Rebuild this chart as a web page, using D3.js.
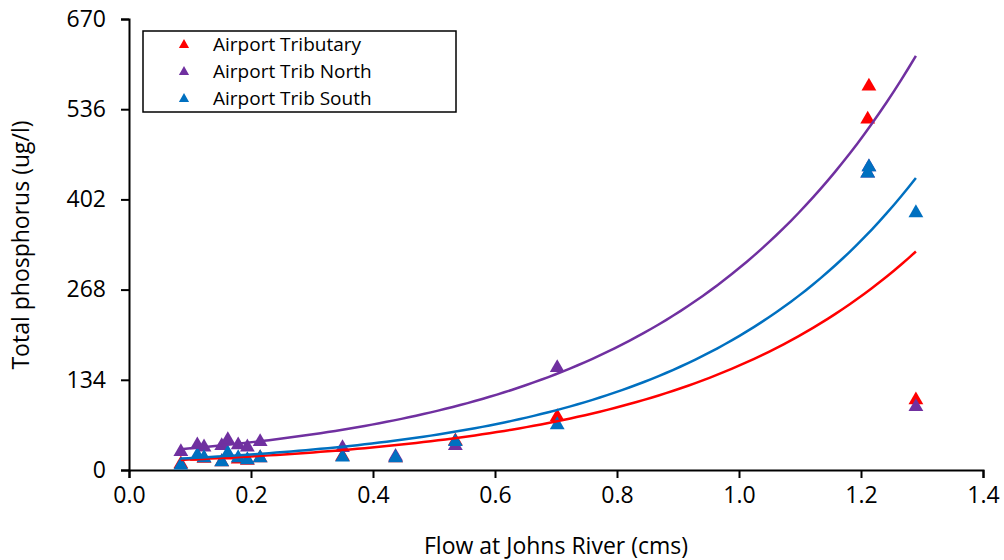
<!DOCTYPE html>
<html>
<head>
<meta charset="utf-8">
<script src="https://cdn.jsdelivr.net/npm/d3@7"></script>
<style>
  body { margin: 0; background: #fff; }
  svg { font-family: "Open Sans", sans-serif; }
</style>
</head>
<body>
<svg id="chart" width="1004" height="560"></svg>
<script>
// Datos
var flujo = [0.085, 0.112, 0.123, 0.152, 0.162, 0.179, 0.194, 0.215, 0.35, 0.437, 0.535, 0.702, 1.213, 1.211, 1.29];
var tributary = [9, 20, 17, 12, 22, 16, 14, 18, 20, 18, 43, 79, 570, 521, 104];
var tribNorth = [27, 37, 34, 36, 45, 37, 34, 42, 33, 20, 36, 152, 450, 441, 94];
var tribSouth = [7, 22, 18, 12, 25, 18, 15, 18, 19, 18, 42, 67, 450, 441, 382];

var series = ["Airport Tributary", "Airport Trib North", "Airport Trib South"];
var colores = ["#ff0000", "#7030a0", "#0070c0"];
// lineas de tendencia exponencial y = a * e^(b x)
var tendA = [12.1, 25.1, 13.5];
var tendB = [2.55, 2.48, 2.69];

var yTicks = [0, 134, 268, 402, 536, 670];
var xTicks = [0, 0.2, 0.4, 0.6, 0.8, 1.0, 1.2, 1.4];

var svg = d3.select("#chart");

var x = d3.scaleLinear().domain([0, 1.4]).range([129, 983]);
var y = d3.scaleLinear().domain([0, 670]).range([470, 19]);

// Ejes
var ejeX = svg.append("g")
  .attr("transform", "translate(0,470)")
  .call(d3.axisBottom(x).tickValues(xTicks).tickFormat(d3.format(".1f")).tickSizeOuter(0).tickSize(8).tickPadding(9));

var ejeY = svg.append("g")
  .attr("transform", "translate(129,0)")
  .call(d3.axisLeft(y).tickValues(yTicks).tickSizeOuter(0).tickSize(8).tickPadding(15));

[ejeX, ejeY].forEach(function(g) {
  g.select(".domain").attr("stroke", "#000").attr("stroke-width", 2);
  g.selectAll(".tick line").attr("stroke", "#000").attr("stroke-width", 2);
  g.selectAll(".tick text").attr("fill", "#000").style("font-size", "23px").style("font-family", "'Open Sans', sans-serif");
});

// Titulos de ejes
svg.append("text")
  .attr("x", 556).attr("y", 554)
  .attr("text-anchor", "middle")
  .style("font-size", "23px")
  .text("Flow at Johns River (cms)");

svg.append("text")
  .attr("transform", "translate(29,245) rotate(-90)")
  .attr("text-anchor", "middle")
  .style("font-size", "23px")
  .text("Total phosphorus (ug/l)");

// Puntos
var valores = [tributary, tribNorth, tribSouth];
var triangulo = d3.symbol().type(d3.symbolTriangle).size(95);

valores.forEach(function(vals, s) {
  svg.append("g")
    .selectAll("path")
    .data(vals)
    .enter()
    .append("path")
    .attr("d", triangulo)
    .attr("transform", function(d, i) {
      return "translate(" + x(flujo[i]) + "," + y(d) + ")";
    })
    .attr("fill", colores[s]);
});

// Lineas de tendencia
var xMin = d3.min(flujo), xMax = d3.max(flujo);
var muestras = d3.range(0, 101).map(function(k) { return xMin + (xMax - xMin) * k / 100; });
var linea = d3.line().x(function(d) { return x(d[0]); }).y(function(d) { return y(d[1]); });

[0, 2, 1].forEach(function(s) {
  svg.append("path")
    .datum(muestras.map(function(v) { return [v, tendA[s] * Math.exp(tendB[s] * v)]; }))
    .attr("d", linea)
    .attr("fill", "none")
    .attr("stroke", colores[s])
    .attr("stroke-width", 2.5);
});

// Leyenda
var leyenda = svg.append("g");
leyenda.append("rect")
  .attr("x", 143).attr("y", 31)
  .attr("width", 313).attr("height", 81)
  .attr("fill", "#fff")
  .attr("stroke", "#000")
  .attr("stroke-width", 1.5);

series.forEach(function(nombre, s) {
  var yy = 45 + s * 27;
  leyenda.append("path")
    .attr("d", d3.symbol().type(d3.symbolTriangle).size(45))
    .attr("transform", "translate(184," + yy + ")")
    .attr("fill", colores[s]);
  leyenda.append("text")
    .attr("x", 213).attr("y", yy + 6)
    .style("font-size", "19px")
    .text(nombre);
});
</script>
</body>
</html>
